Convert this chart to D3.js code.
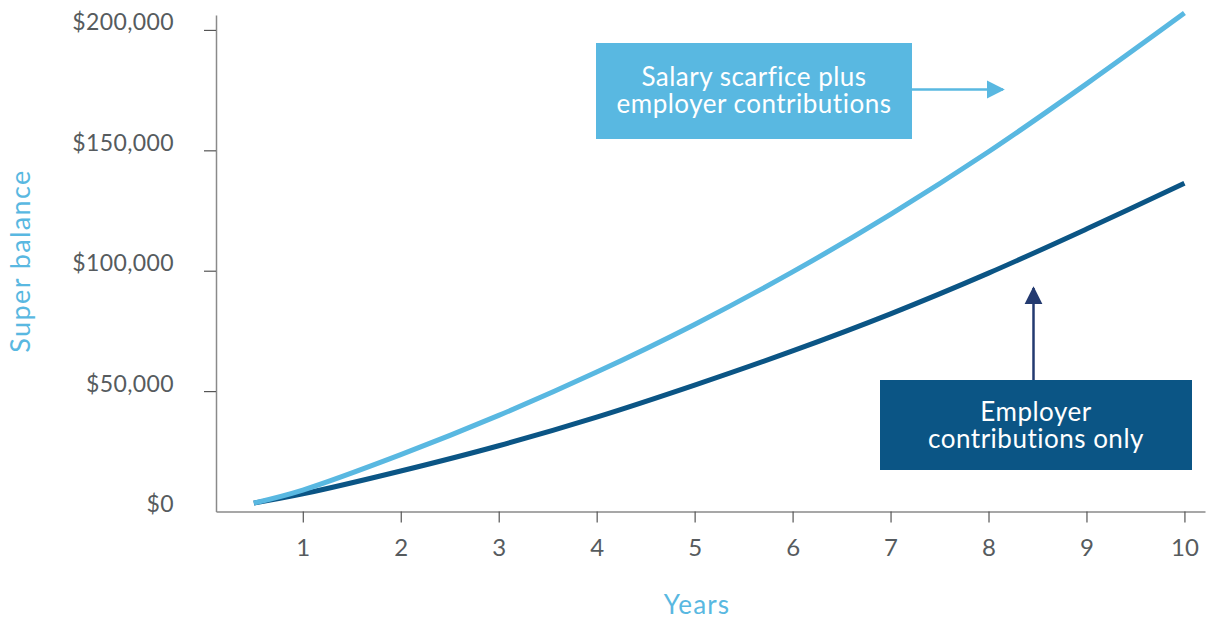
<!DOCTYPE html>
<html>
<head>
<meta charset="utf-8">
<script src="https://cdn.jsdelivr.net/npm/d3@7"></script>
<style>
  body { margin: 0; background: #fff; }
  svg { font-family: Lato, "Open Sans", sans-serif; }
</style>
</head>
<body>
<div id="chart"></div>
<script>
// data
var years = [0.5, 1, 2, 3, 4, 5, 6, 7, 8, 9, 10];
var salarySacrifice = [3500, 8900, 23600, 39900, 57900, 77700, 99500, 123400, 149400, 177600, 207000];
var employerOnly = [3500, 7300, 16800, 27300, 39200, 52500, 66700, 82100, 99000, 117300, 136300];
var xTicks = [1, 2, 3, 4, 5, 6, 7, 8, 9, 10];
var yTicks = [0, 50000, 100000, 150000, 200000];

var width = 1210, height = 619;
var lightBlue = "#59b8e1", darkBlue = "#0b5585", navy = "#233a70";
var labelGrey = "#565b5e";

var svg = d3.select("#chart")
  .append("svg")
  .attr("width", width)
  .attr("height", height);

// scales
var x = d3.scaleLinear().domain([0.114, 10.21]).range([216, 1205]);
var y = d3.scaleLinear().domain([0, 206200]).range([511.5, 15]);

// y axis
var yAxis = svg.append("g")
  .attr("transform", "translate(216,0)")
  .call(d3.axisLeft(y).tickValues(yTicks).tickSize(12).tickPadding(30)
    .tickSizeOuter(0)
    .tickFormat(function (d) { return "$" + d3.format(",")(d); }));
yAxis.attr("font-family", null);
yAxis.select(".domain").attr("stroke", "#8a8a8a").attr("stroke-width", 1.5);
yAxis.selectAll(".tick line").attr("stroke", "#555").attr("stroke-width", 1.2)
  .filter(function (d) { return d === 0; }).remove();
yAxis.selectAll(".tick text")
  .attr("fill", labelGrey)
  .style("font-size", "23px")
  .style("letter-spacing", "0.4px")
  .attr("dy", "0.0em");

// x axis
var xAxis = svg.append("g")
  .attr("transform", "translate(0,511.5)")
  .call(d3.axisBottom(x).tickValues(xTicks).tickSize(11).tickPadding(16).tickSizeOuter(0));
xAxis.attr("font-family", null);
xAxis.select(".domain").attr("stroke", "#8a8a8a").attr("stroke-width", 1.5);
xAxis.selectAll(".tick line").attr("stroke", "#555").attr("stroke-width", 1.2);
xAxis.selectAll(".tick text")
  .attr("fill", labelGrey)
  .style("font-size", "24px");

// axis titles
svg.append("text")
  .attr("transform", "translate(30,261) rotate(-90)")
  .attr("text-anchor", "middle")
  .attr("fill", lightBlue)
  .style("font-size", "27px")
  .style("letter-spacing", "1.4px")
  .text("Super balance");

svg.append("text")
  .attr("x", 697)
  .attr("y", 614)
  .attr("text-anchor", "middle")
  .attr("fill", lightBlue)
  .style("font-size", "26px")
  .style("letter-spacing", "1.2px")
  .text("Years");

// lines
var line = d3.line()
  .x(function (d) { return x(d[0]); })
  .y(function (d) { return y(d[1]); })
  .curve(d3.curveCatmullRom);

svg.append("path")
  .datum(d3.zip(years, employerOnly))
  .attr("d", line)
  .attr("fill", "none")
  .attr("stroke", darkBlue)
  .attr("stroke-width", 5);

svg.append("path")
  .datum(d3.zip(years, salarySacrifice))
  .attr("d", line)
  .attr("fill", "none")
  .attr("stroke", lightBlue)
  .attr("stroke-width", 5);

// arrow markers
var defs = svg.append("defs");
function marker(id, color) {
  defs.append("marker")
    .attr("id", id)
    .attr("viewBox", "0 0 10 10")
    .attr("refX", 9)
    .attr("refY", 5)
    .attr("markerUnits", "userSpaceOnUse")
    .attr("markerWidth", 18)
    .attr("markerHeight", 20)
    .attr("orient", "auto")
    .append("path")
    .attr("d", "M0,0L10,5L0,10Z")
    .attr("fill", color);
}
marker("arrowLight", lightBlue);
marker("arrowNavy", navy);

// callout: salary sacrifice
svg.append("line")
  .attr("x1", 911).attr("y1", 89.5)
  .attr("x2", 1003).attr("y2", 89.5)
  .attr("stroke", lightBlue)
  .attr("stroke-width", 2.5)
  .attr("marker-end", "url(#arrowLight)");

svg.append("rect")
  .attr("x", 596).attr("y", 43)
  .attr("width", 316).attr("height", 96)
  .attr("fill", lightBlue);

var t1 = svg.append("text")
  .attr("text-anchor", "middle")
  .attr("fill", "#fff")
  .style("font-size", "26px")
  .style("letter-spacing", "0.5px");
t1.append("tspan").attr("x", 754).attr("y", 86).text("Salary scarfice plus");
t1.append("tspan").attr("x", 754).attr("y", 113).text("employer contributions");

// callout: employer only
svg.append("line")
  .attr("x1", 1033.5).attr("y1", 381)
  .attr("x2", 1033.5).attr("y2", 288)
  .attr("stroke", navy)
  .attr("stroke-width", 2.5)
  .attr("marker-end", "url(#arrowNavy)");

svg.append("rect")
  .attr("x", 880).attr("y", 380)
  .attr("width", 312).attr("height", 90)
  .attr("fill", darkBlue);

var t2 = svg.append("text")
  .attr("text-anchor", "middle")
  .attr("fill", "#fff")
  .style("font-size", "26px")
  .style("letter-spacing", "0.5px");
t2.append("tspan").attr("x", 1036).attr("y", 421).text("Employer");
t2.append("tspan").attr("x", 1036).attr("y", 448).text("contributions only");
</script>
</body>
</html>
